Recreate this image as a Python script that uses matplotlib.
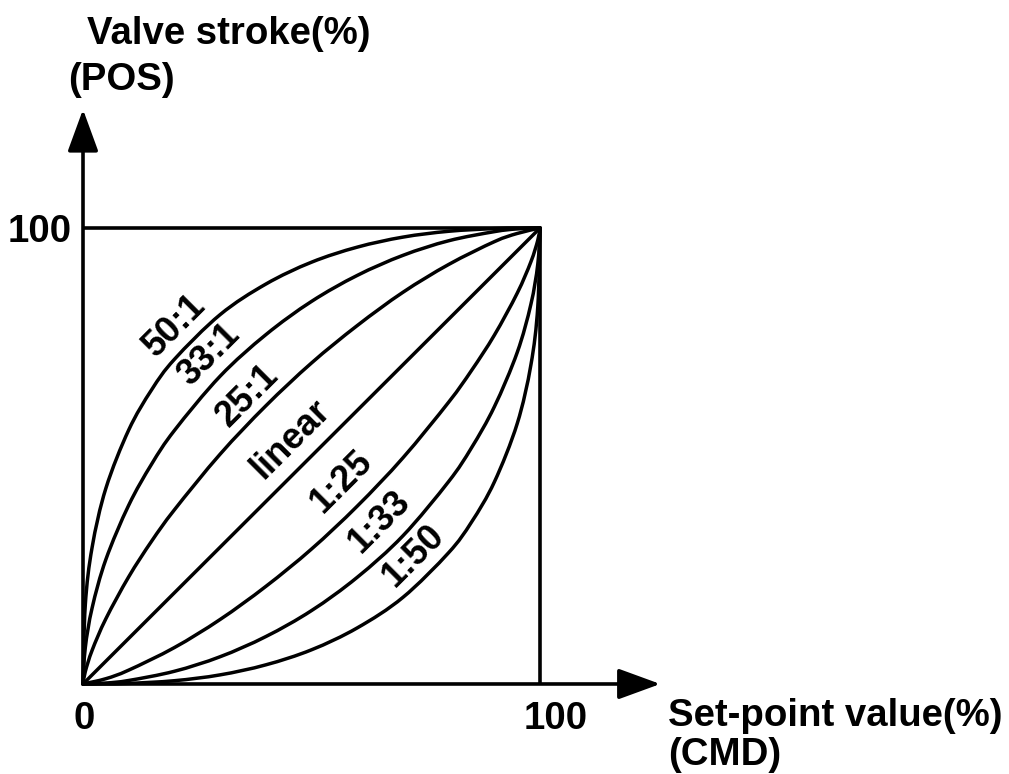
import numpy as np
import matplotlib
matplotlib.use('Agg')
import matplotlib.pyplot as plt
from matplotlib.path import Path
from matplotlib.patches import PathPatch

plt.rcParams['font.family'] = ['Liberation Sans', 'DejaVu Sans']
plt.rcParams['font.weight'] = 'bold'

# Kennlinien (Sollwert % -> Hub %)
x_50_1 = [0, 0.5, 2, 5, 10, 15, 20, 30, 40, 50, 60, 70, 80, 90, 95, 100]
y_50_1 = [0, 17.3, 30.0, 42.9, 55.7, 64.5, 71.2, 81.0, 87.7, 92.5, 95.8, 98.0, 99.28, 99.87, 99.98, 100]

x_33_1 = [0, 0.5, 2, 5, 10, 15, 20, 30, 40, 50, 60, 70, 80, 90, 95, 100]
y_33_1 = [0, 7.95, 16.7, 27.3, 39.2, 48.2, 55.6, 67.5, 76.6, 83.9, 89.6, 94.0, 97.2, 99.2, 99.8, 100]

x_25_1 = [0, 0.5, 2, 5, 10, 15, 20, 30, 40, 50, 60, 70, 80, 90, 95, 100]
y_25_1 = [0, 2.7, 7.4, 14.3, 23.5, 31.3, 38.2, 50.4, 61.0, 70.4, 78.6, 85.9, 92.0, 97.0, 98.8, 100]

x_linear = [0, 100]
y_linear = [0, 100]

x_1_25 = [0, 5, 10, 20, 30, 40, 50, 60, 70, 80, 85, 90, 95, 98, 99.5, 100]
y_1_25 = [0, 1.16, 3.04, 7.99, 14.15, 21.4, 29.6, 39.0, 49.6, 61.8, 68.75, 76.5, 85.7, 92.6, 97.3, 100]

x_1_33 = [0, 5, 10, 20, 30, 40, 50, 60, 70, 80, 85, 90, 95, 98, 99.5, 100]
y_1_33 = [0, 0.21, 0.77, 2.79, 5.98, 10.4, 16.1, 23.4, 32.5, 44.4, 51.8, 60.8, 72.7, 83.3, 92.05, 100]

x_1_50 = [0, 5, 10, 20, 30, 40, 50, 60, 70, 80, 85, 90, 95, 98, 99.5, 100]
y_1_50 = [0, 0.02, 0.13, 0.72, 2.0, 4.2, 7.5, 12.3, 19.0, 28.8, 35.5, 44.3, 57.1, 70.0, 82.7, 100]

curves = [(x_50_1, y_50_1), (x_33_1, y_33_1), (x_25_1, y_25_1), (x_linear, y_linear),
          (x_1_25, y_1_25), (x_1_33, y_1_33), (x_1_50, y_1_50)]

# Beschriftungen der Kurven (Position in Datenkoordinaten)
curve_labels = ['50:1', '33:1', '25:1', 'linear', '1:25', '1:33', '1:50']
label_x = [20.1, 27.6, 36.0, 45.5, 56.5, 64.8, 72.4]
label_y = [78.6, 72.1, 63.3, 53.7, 44.3, 35.5, 28.1]


def smooth_path(xs, ys):
    """Catmull-Rom durch die Punkte als Bezier-Pfad"""
    pts = np.column_stack([xs, ys]).astype(float)
    n = len(pts)
    verts = [pts[0]]
    codes = [Path.MOVETO]
    for i in range(n - 1):
        p0 = pts[i - 1] if i > 0 else pts[i]
        p1 = pts[i]
        p2 = pts[i + 1]
        p3 = pts[i + 2] if i + 2 < n else pts[i + 1]
        verts += [p1 + (p2 - p0) / 6, p2 - (p3 - p1) / 6, p2]
        codes += [Path.CURVE4] * 3
    return Path(verts, codes)


fig = plt.figure(figsize=(10.09, 7.74), dpi=100)
ax = fig.add_axes([0, 0, 1, 1])
ax.set_xlim(-18.16, 202.6)
ax.set_ylim(-19.74, 150.0)
ax.axis('off')

lw = 2.6

# Rahmen bei 100 %
ax.plot([0, 100], [100, 100], color='black', lw=lw, solid_capstyle='butt')
ax.plot([100, 100], [0, 100], color='black', lw=lw, solid_capstyle='butt')

# Achsen mit Pfeilen
arrow = dict(arrowstyle='-|>,head_length=26,head_width=9.5', color='black', lw=lw,
             mutation_scale=1, shrinkA=0, shrinkB=0)
ax.annotate('', xy=(126.3, 0), xytext=(0, 0), arrowprops=arrow)
ax.annotate('', xy=(0, 126), xytext=(0, 0), arrowprops=arrow)

for xs, ys in curves:
    ax.add_patch(PathPatch(smooth_path(xs, ys), facecolor='none', edgecolor='black',
                           lw=2.5, capstyle='round'))

for txt, lx, ly in zip(curve_labels, label_x, label_y):
    ax.text(lx, ly, txt, rotation=45, rotation_mode='anchor', ha='center', va='center',
            fontsize=26, fontweight='bold')

fs = 27.6
ax.text(0.9, 140.4, 'Valve stroke(%)', ha='left', va='baseline', fontsize=fs, fontweight='bold')
ax.text(-3.3, 130.3, '(POS)', ha='left', va='baseline', fontsize=fs, fontweight='bold')
ax.text(-2.4, 96.9, '100', ha='right', va='baseline', fontsize=fs, fontweight='bold')
ax.text(0.2, -9.9, '0', ha='center', va='baseline', fontsize=fs, fontweight='bold')
ax.text(96.3, -9.9, '100', ha='left', va='baseline', fontsize=fs, fontweight='bold')
ax.text(128.0, -9.2, 'Set-point value(%)', ha='left', va='baseline', fontsize=fs, fontweight='bold')
ax.text(128.0, -17.8, '(CMD)', ha='left', va='baseline', fontsize=fs, fontweight='bold')

fig.savefig('out.png', dpi=100)
